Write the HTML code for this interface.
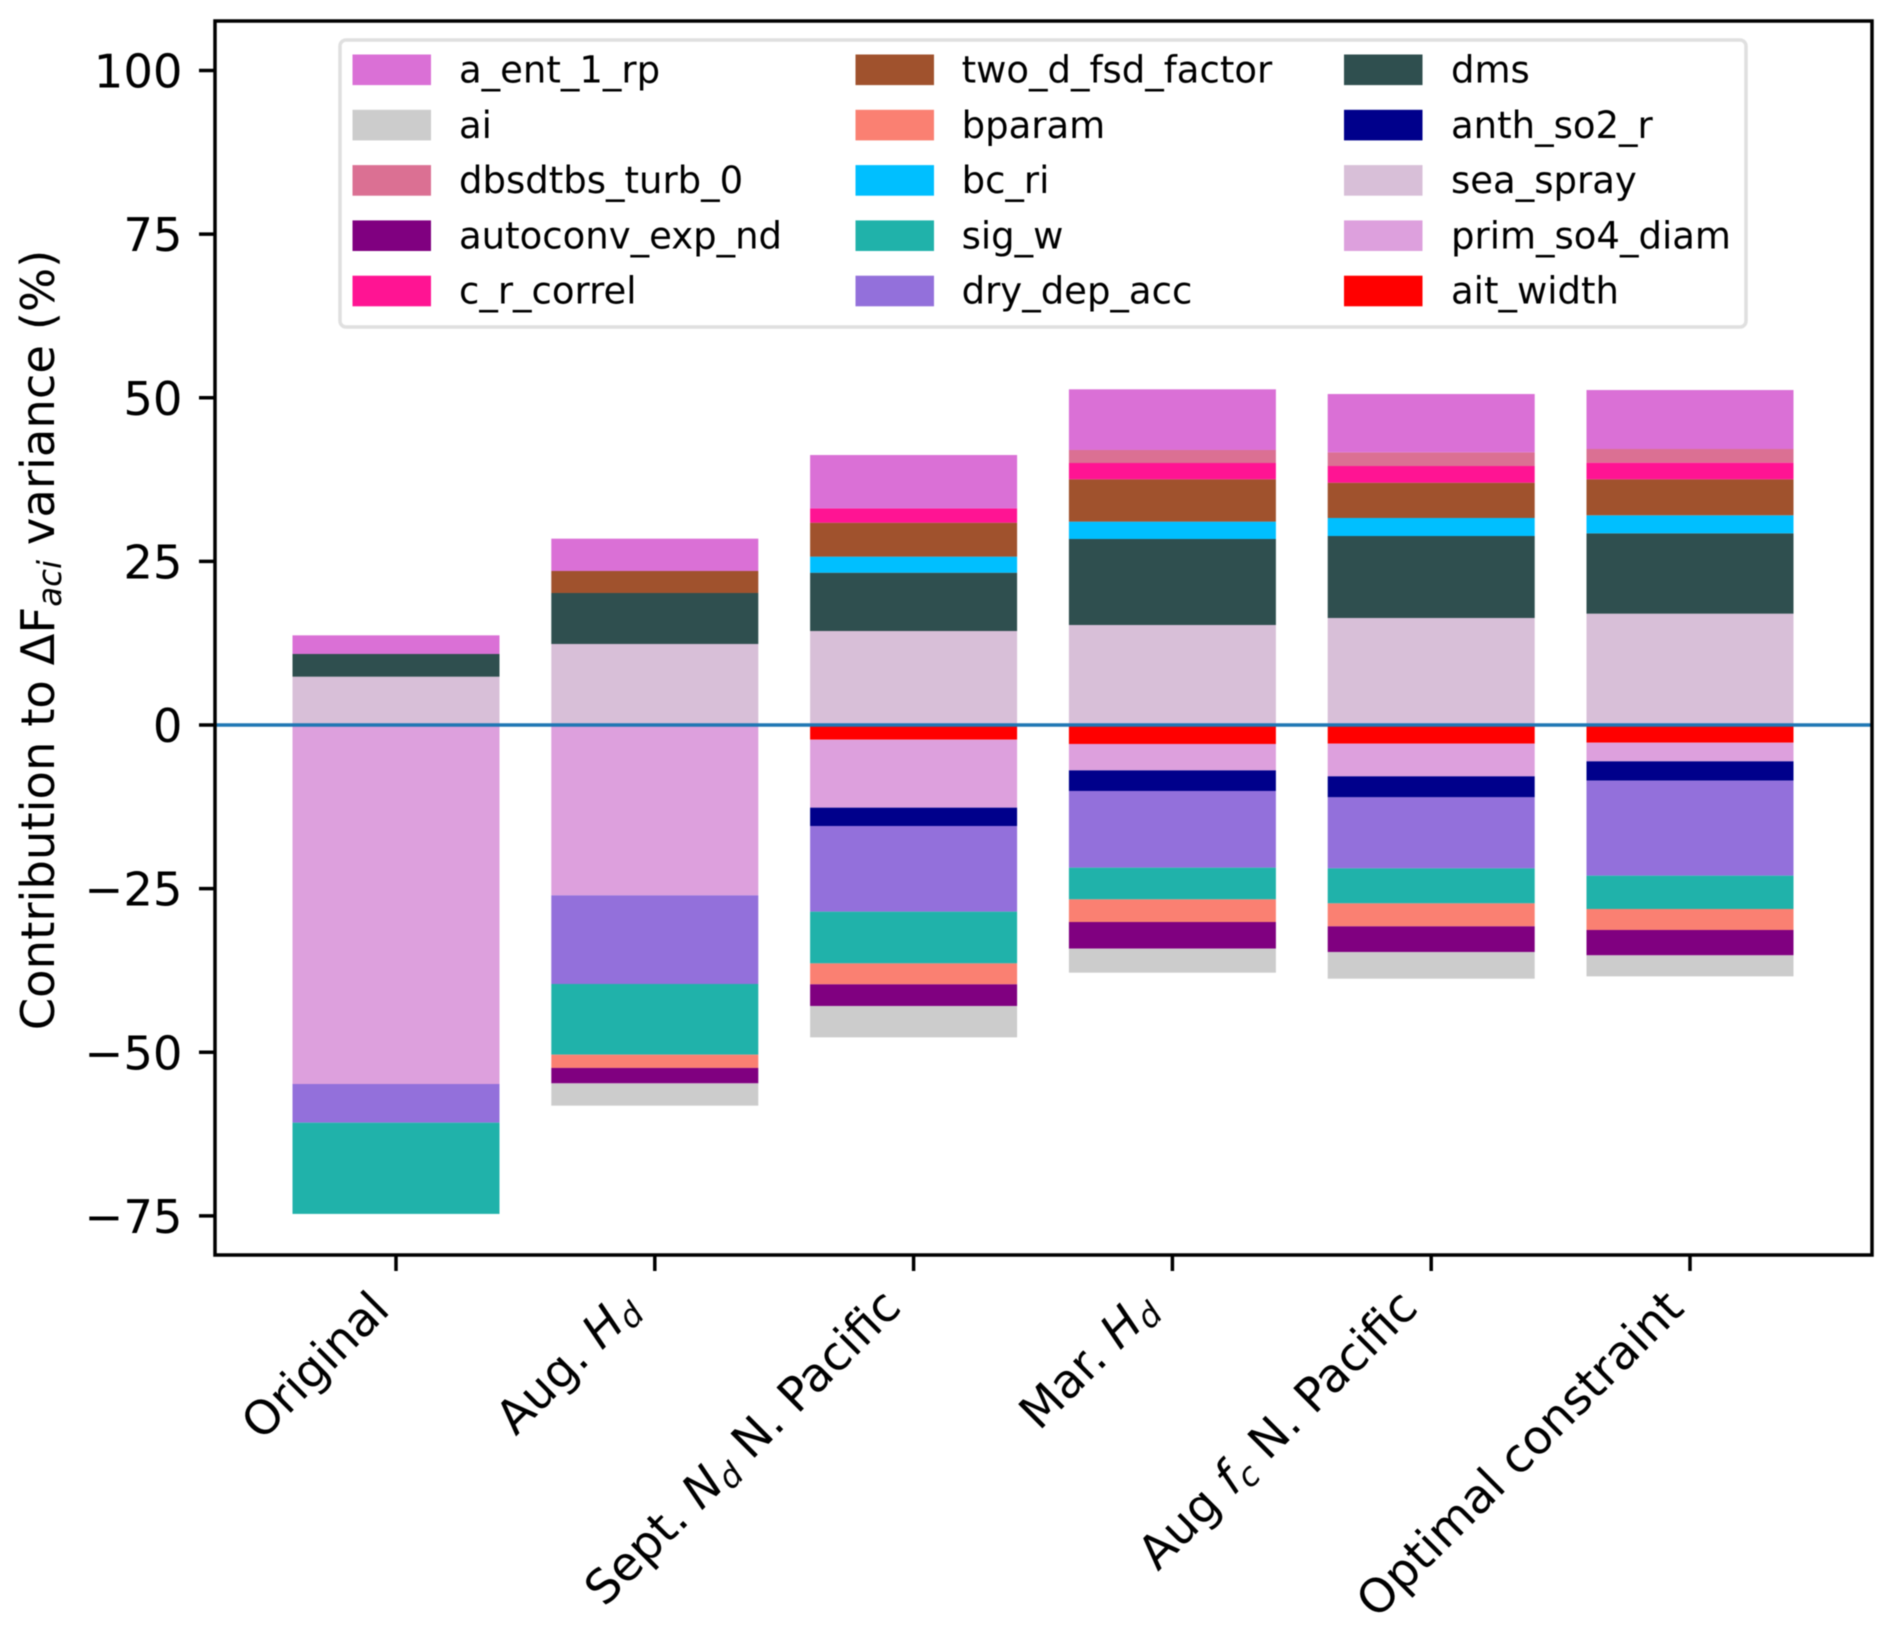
<!DOCTYPE html>
<html lang="en">
<head>
<meta charset="utf-8">
<title>Contribution to variance by constraint</title>
<style>
html,body{margin:0;padding:0;background:#fff}
svg{display:block;filter:blur(0.5px)}
text{font-family:"DejaVu Sans","Liberation Sans",sans-serif;fill:#000}
</style>
</head>
<body>
<svg id="chart" xmlns="http://www.w3.org/2000/svg" width="1892" height="1630" viewBox="0 0 1892 1630">
  <rect x="0" y="0" width="1892" height="1630" fill="#fff"/>
  <g id="bars"></g>
  <g id="zero"></g>
  <g id="legend"></g>
  <rect x="215" y="21" width="1657" height="1234" fill="none" stroke="#000" stroke-width="3.5"/>
  <g id="yticks"></g>
  <g id="xticks"></g>
  <text transform="translate(54,640) rotate(-90)" text-anchor="middle" font-size="46.5">Contribution to ΔF<tspan font-style="italic" font-size="32.5" dy="7">aci</tspan><tspan dy="-7"> variance (%)</tspan></text>
</svg>
<script>
// ---- chart data (percent contribution per parameter, per constraint) ----
const categories = ["Original", "Aug. $H_d$", "Sept. $N_d$ N. Pacific", "Mar. $H_d$", "Aug $f_c$ N. Pacific", "Optimal constraint"];
const yTickValues = [100, 75, 50, 25, 0, -25, -50, -75];
const seriesNames = ["a_ent_1_rp", "ai", "dbsdtbs_turb_0", "autoconv_exp_nd", "c_r_correl", "two_d_fsd_factor", "bparam", "bc_ri", "sig_w", "dry_dep_acc", "dms", "anth_so2_r", "sea_spray", "prim_so4_diam", "ait_width"];
const seriesColors = ["#da70d6", "#cccccc", "#db7093", "#800080", "#ff1493", "#a0522d", "#fa8072", "#00bfff", "#20b2aa", "#9370db", "#2f4f4f", "#00008b", "#d8bfd8", "#dda0dd", "#ff0000"];
const a_ent_1_rp = [2.85, 4.94, 8.15, 9.27, 8.91, 9.01];
const ai = [0, -3.41, -4.79, -3.67, -4.08, -3.21];
const dbsdtbs_turb_0 = [0, 0, 0, 1.99, 2.09, 2.09];
const autoconv_exp_nd = [0, -2.35, -3.31, -4.07, -3.92, -3.87];
const c_r_correl = [0, 0, 2.19, 2.49, 2.55, 2.54];
const two_d_fsd_factor = [0, 3.36, 5.19, 6.47, 5.39, 5.5];
const bparam = [0, -2.03, -3.2, -3.46, -3.51, -3.21];
const bc_ri = [0, 0, 2.45, 2.65, 2.75, 2.75];
const sig_w = [-13.94, -10.8, -7.9, -4.84, -5.35, -5.09];
const dry_dep_acc = [-5.91, -13.54, -13.09, -11.72, -10.85, -14.51];
const dms = [3.47, 7.79, 8.91, 13.14, 12.53, 12.28];
const anth_so2_r = [0, 0, -2.8, -3.15, -3.21, -2.96];
const sea_spray = [7.38, 12.38, 14.36, 15.28, 16.35, 17.01];
const prim_so4_diam = [-54.85, -26.03, -10.39, -4.03, -4.99, -2.85];
const ait_width = [0, 0, -2.24, -2.9, -2.85, -2.7];
const seriesValues = [a_ent_1_rp, ai, dbsdtbs_turb_0, autoconv_exp_nd, c_r_correl, two_d_fsd_factor, bparam, bc_ri, sig_w, dry_dep_acc, dms, anth_so2_r, sea_spray, prim_so4_diam, ait_width];

// ---- axis functions ----
const NS = "http://www.w3.org/2000/svg";
const xScale = i => 396 + 258.8 * i;
const yScale = v => 725 - 6.545 * v;
const barWidth = 207;

function make(parent, tag, attrs) {
  const node = document.createElementNS(NS, tag);
  for (const key in attrs) node.setAttribute(key, attrs[key]);
  parent.appendChild(node);
  return node;
}

function richText(node, str, subSize) {
  const parts = str.split(/\$(\w+)_(\w+)\$/);
  let shift = 0;
  parts.forEach((part, idx) => {
    if (!part) return;
    const kind = idx % 3;
    const t = document.createElementNS(NS, "tspan");
    if (kind === 1) {
      t.setAttribute("font-style", "italic");
    }
    if (kind === 2) {
      t.setAttribute("font-style", "italic");
      t.setAttribute("font-size", subSize);
      t.setAttribute("dy", 7);
      shift = 7;
    } else if (shift) {
      t.setAttribute("dy", -shift);
      shift = 0;
    }
    t.textContent = part;
    node.appendChild(t);
  });
}

// ---- stacked bars ----
const barsLayer = document.getElementById("bars");
categories.forEach((cat, c) => {
  let pos = 0, neg = 0;
  for (let s = seriesValues.length - 1; s >= 0; s--) {
    const v = seriesValues[s][c];
    if (!v) continue;
    const base = v > 0 ? pos : neg;
    const end = base + v;
    if (v > 0) pos = end; else neg = end;
    const top = Math.min(yScale(base), yScale(end));
    const h = Math.abs(yScale(base) - yScale(end));
    const r = make(barsLayer, "rect", {x: xScale(c) - barWidth / 2, y: top, width: barWidth, height: h, fill: seriesColors[s]});
    
    
  }
});

// ---- zero line ----
const zeroLine = make(document.getElementById("zero"), "line", {x1: 215, x2: 1872, y1: yScale(0), y2: yScale(0), stroke: "#1f77b4", "stroke-width": 3.5});



// ---- y axis ----
const yLayer = document.getElementById("yticks");
yTickValues.forEach(v => {
  const tick = make(yLayer, "line", {x1: 199, x2: 215, y1: yScale(v), y2: yScale(v), stroke: "#000", "stroke-width": 3.5});
  
  
  const label = make(yLayer, "text", {x: 182.5, y: yScale(v) + 17, "text-anchor": "end", "font-size": 46.5});
  
  
  label.textContent = v < 0 ? "\u2212" + Math.abs(v) : String(v);
});

// ---- x axis ----
const xLayer = document.getElementById("xticks");
const labelShiftX = [-4.4, -13.5, -10.6, -12.9, -11.4, -4.2];
const labelShiftY = [-4.2, -4.8, -6.6, -4.8, -6, -5.4];
categories.forEach((cat, c) => {
  const tick = make(xLayer, "line", {x1: xScale(c), x2: xScale(c), y1: 1255, y2: 1271, stroke: "#000", "stroke-width": 3.5});
  
  
  const ax = xScale(c) + labelShiftX[c], ay = 1316 + labelShiftY[c];
  const label = make(xLayer, "text", {transform: "translate(" + ax + "," + ay + ") rotate(-45)", "text-anchor": "end", "font-size": 47});
  
  
  richText(label, cat, 32.5);
});

// ---- legend ----
const legendLayer = document.getElementById("legend");
const legendFrame = make(legendLayer, "rect", {x: 340, y: 40, width: 1406, height: 287, rx: 6, ry: 6, fill: "#fff", "fill-opacity": 0.8, stroke: "#e0e0e0", "stroke-width": 3.5});


const legendHandleX = [352.5, 855.5, 1344];
const legendTextX = [459, 961.6, 1451];
seriesNames.forEach((name, s) => {
  const col = Math.floor(s / 5), row = s % 5;
  const sw = make(legendLayer, "rect", {x: legendHandleX[col], y: 54.5 + 55.3 * row, width: 78.5, height: 30.6, fill: seriesColors[s]});
  
  
  const txt = make(legendLayer, "text", {x: legendTextX[col], y: 82.5 + 55.3 * row, "font-size": 37});
  
  
  txt.textContent = name;
});
</script>
</body>
</html>
